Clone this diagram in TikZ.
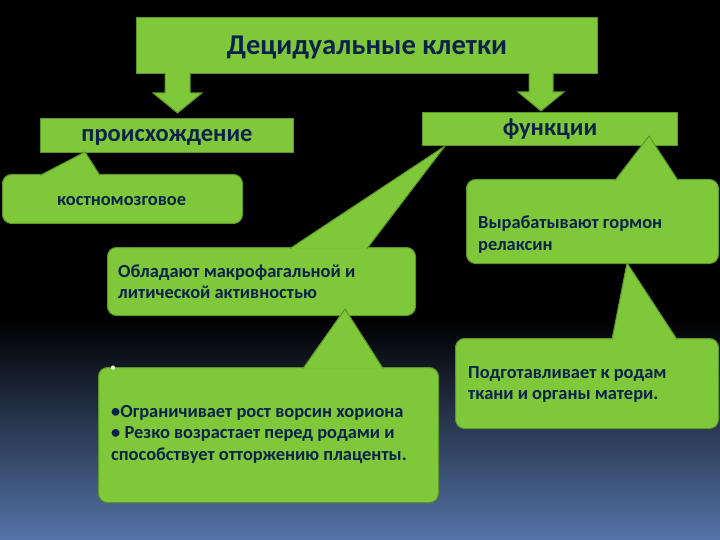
\documentclass[tikz,border=0pt]{standalone}
\usepackage{fontspec}
\setmainfont{Carlito}
\usetikzlibrary{positioning,calc}
\definecolor{leaf}{RGB}{126,200,58}
\definecolor{leafedge}{RGB}{92,150,40}
\definecolor{ink}{RGB}{10,34,74}
\definecolor{dusk}{RGB}{86,116,168}

\begin{document}
\begin{tikzpicture}[x=1pt,y=-1pt,
head/.style={draw=leafedge,fill=leaf,line width=1pt,anchor=north west,inner sep=0pt,text=ink},
bubble/.style={draw=leafedge,fill=leaf,line width=1pt,rounded corners=9pt,anchor=north west,inner sep=0pt},
tail/.style={fill=leaf,draw=leafedge,line width=1pt,line join=round},
pipe/.style={fill=leaf,draw=leafedge,line width=1pt},
note/.style={anchor=base west,inner sep=0pt,align=flush left,text=ink,font=\bfseries\fontsize{18.4}{21.5}\selectfont}]
% background
\fill[black] (0,0) rectangle (720,330);
\shade[top color=black,bottom color=dusk] (0,320) rectangle (720,540);
\useasboundingbox (0,0) rectangle (720,540);
% headings
\node[head,minimum width=461pt,minimum height=56pt,text depth=0pt,font=\bfseries\fontsize{28.6}{34}\selectfont] (cells) at (136,17) {Децидуальные клетки};
\node[head,minimum width=253pt,minimum height=34pt,text depth=0pt,font=\bfseries\fontsize{24.5}{29}\selectfont] (origin) at (40,118) {происхождение};
\node[head,minimum width=255pt,minimum height=33pt,font=\bfseries\fontsize{24.5}{29}\selectfont] (roles) at (422,112) {функции};
% block arrows
\path[pipe] ($(cells.south west)+(29,-1)$) -- ++(0,20) -- ++(-12,0) -- ++(24.5,20) -- ++(24.5,-20) -- ++(-12,0) -- ++(0,-20);
\path[pipe] ($(cells.south east)+(-69,-1)$) -- ++(0,19) -- ++(-11,0) -- ++(23,19) -- ++(23,-19) -- ++(-11,0) -- ++(0,-19);
% callout boxes
\node[bubble,minimum width=240pt,minimum height=49pt] (marrow) at (2,174) {};
\node[bubble,minimum width=308pt,minimum height=68pt] (phago) at (107,247) {};
\node[bubble,minimum width=252pt,minimum height=84pt] (hormone) at (466,179) {};
\node[bubble,minimum width=340pt,minimum height=135pt] (villi) at (98,367) {};
\node[bubble,minimum width=263pt,minimum height=90pt] (labour) at (455,338) {};
% callout tails
\path[tail] ($(marrow.north west)+(38,1.5)$) -- ($(origin.south west)+(45,-1)$) -- ($(marrow.north west)+(98,1.5)$);
\path[tail] ($(phago.north west)+(183,1.5)$) -- ($(roles.south west)+(23,0)$) -- ($(phago.north west)+(260,1.5)$);
\path[tail] ($(hormone.north west)+(149,1.5)$) -- ($(roles.south east)+(-29,-10)$) -- ($(hormone.north west)+(212,1.5)$);
\path[tail] ($(villi.north west)+(205,1.5)$) -- ($(phago.south west)+(238,-7)$) -- ($(villi.north west)+(285,1.5)$);
\path[tail] ($(labour.north west)+(157,1.5)$) -- ($(hormone.south west)+(161,-1)$) -- ($(labour.north west)+(222,1.5)$);
% texts
\node[note,text width=180pt] (marrowtxt) at ($(marrow.north west)+(55,32)$) {костномозговое};
\node[note,text width=295pt] (phagotxt) at ($(phago.north west)+(11,30)$) {Обладают макрофагальной и\\литической активностью};
\node[note,text width=238pt] (hormonetxt) at ($(hormone.north west)+(12,50)$) {Вырабатывают гормон\\релаксин};
\node[note,text width=325pt] (villitxt) at ($(villi.north west)+(13,50)$) {•Ограничивает рост ворсин хориона\\• Резко возрастает перед родами и\\способствует отторжению плаценты.};
\node[note,text width=248pt] (labourtxt) at ($(labour.north west)+(13,40)$) {Подготавливает к родам\\ткани и органы матери.};
\node[inner sep=0pt,text=white!85!leaf,font=\fontsize{12}{12}\selectfont] (villidot) at ($(villi.north west)+(15,2)$) {•};
\end{tikzpicture}
\end{document}
